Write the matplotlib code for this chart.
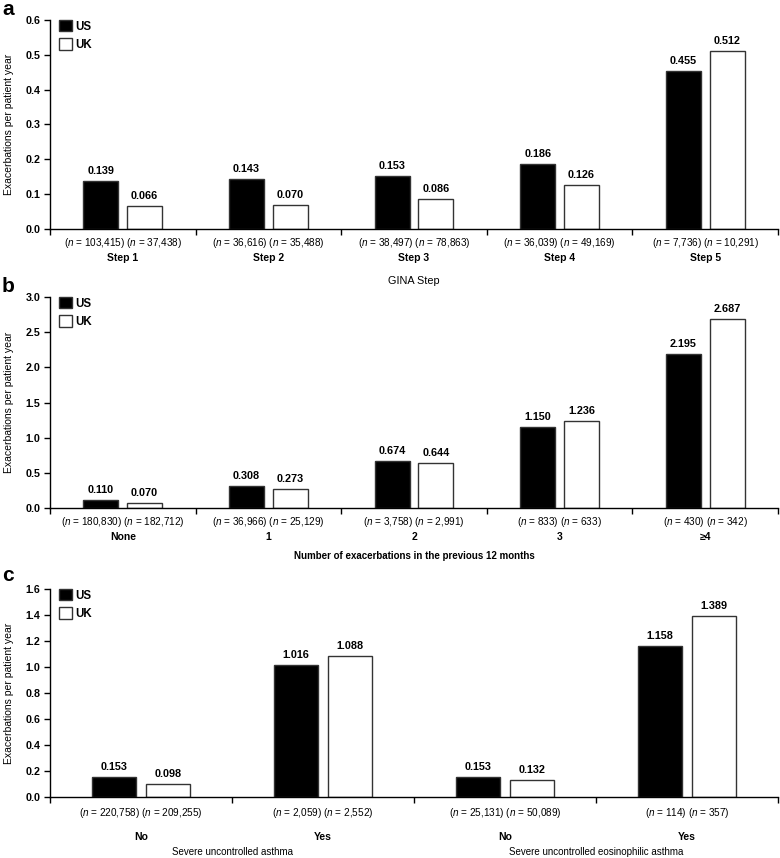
import matplotlib
matplotlib.use("Agg")
import matplotlib.pyplot as plt
import numpy as np
from matplotlib.patches import Patch
from matplotlib.ticker import FormatStrFormatter
from matplotlib.transforms import blended_transform_factory

plt.rcParams["font.family"] = ["Liberation Sans", "DejaVu Sans"]
plt.rcParams["mathtext.fontset"] = "custom"
plt.rcParams["mathtext.rm"] = "Liberation Sans"
plt.rcParams["mathtext.it"] = "Liberation Sans:italic"

# panel a: GINA step
steps = ["Step 1", "Step 2", "Step 3", "Step 4", "Step 5"]
a_us = [0.139, 0.143, 0.153, 0.186, 0.455]
a_uk = [0.066, 0.070, 0.086, 0.126, 0.512]
a_n_us = ["103,415", "36,616", "38,497", "36,039", "7,736"]
a_n_uk = ["37,438", "35,488", "78,863", "49,169", "10,291"]

# panel b: exacerbations in previous 12 months
exac = ["None", "1", "2", "3", "≥4"]
b_us = [0.110, 0.308, 0.674, 1.150, 2.195]
b_uk = [0.070, 0.273, 0.644, 1.236, 2.687]
b_n_us = ["180,830", "36,966", "3,758", "833", "430"]
b_n_uk = ["182,712", "25,129", "2,991", "633", "342"]

# panel c: severe uncontrolled (eosinophilic) asthma
c_cats = ["No", "Yes", "No", "Yes"]
c_groups = ["Severe uncontrolled asthma", "Severe uncontrolled eosinophilic asthma"]
c_us = [0.153, 1.016, 0.153, 1.158]
c_uk = [0.098, 1.088, 0.132, 1.389]
c_n_us = ["220,758", "2,059", "25,131", "114"]
c_n_uk = ["209,255", "2,552", "50,089", "357"]

W, H = 780, 858
OFF, WIDTH = 0.15, 0.24
EDGE = "#333333"
YLABEL = "Exacerbations per patient year"


def below(ax, x, dy, text, **kw):
    """Put text dy pixels below the x axis at data position x."""
    trans = blended_transform_factory(ax.transData, ax.transAxes)
    ax.annotate(text, (x, 0), xycoords=trans, xytext=(0, -dy), textcoords="offset pixels",
                ha="center", va="center", annotation_clip=False, **kw)


def draw_panel(ax, cats, us, uk, n_us, n_uk, ymax, ystep, n_dy, cat_dy):
    x = np.arange(len(cats)) + 0.5
    ax.bar(x - OFF, us, WIDTH, color="black", edgecolor=EDGE, linewidth=1)
    ax.bar(x + OFF, uk, WIDTH, color="white", edgecolor=EDGE, linewidth=1)
    for xs, vals in ((x - OFF, us), (x + OFF, uk)):
        for xi, v in zip(xs, vals):
            ax.annotate(f"{v:.3f}", (xi, v), xytext=(0, 5), textcoords="offset pixels",
                        ha="center", va="bottom", fontsize=7.8, fontweight="bold")
    for xi, c, nu, nk in zip(x, cats, n_us, n_uk):
        below(ax, xi, n_dy, rf"($\it{{n}}$ = {nu}) ($\it{{n}}$ = {nk})", fontsize=7.2)
        below(ax, xi, cat_dy, c, fontsize=7.5, fontweight="bold")

    ax.set_xlim(0, len(cats))
    ax.set_xticks(np.arange(len(cats) + 1))
    ax.set_xticklabels([])
    ax.set_ylim(0, ymax)
    ax.set_yticks(np.arange(0, ymax + ystep / 2, ystep))
    ax.yaxis.set_major_formatter(FormatStrFormatter("%.1f"))
    for lab in ax.get_yticklabels():
        lab.set_fontweight("bold")
    ax.tick_params(axis="y", labelsize=7.7, length=4, width=1, pad=3)
    ax.tick_params(axis="x", length=4, width=1)
    for s in ("top", "right"):
        ax.spines[s].set_visible(False)
    for s in ("left", "bottom"):
        ax.spines[s].set_linewidth(1)
    ax.set_ylabel(YLABEL, fontsize=7.5)
    ax.yaxis.set_label_coords(-0.05, 0.5)

    handles = [Patch(facecolor="black", edgecolor=EDGE, label="US"),
               Patch(facecolor="white", edgecolor=EDGE, label="UK")]
    ax.legend(handles=handles, loc="upper left", bbox_to_anchor=(9 / 728, 1.0),
              frameon=False, borderpad=0, borderaxespad=0, handlelength=1.15,
              handleheight=1.15, handletextpad=0.3, labelspacing=0.5,
              prop={"size": 8.3, "weight": "bold"})


def axes_rect(top, bottom, left=50, right=778):
    return [left / W, 1 - bottom / H, (right - left) / W, (bottom - top) / H]


fig = plt.figure(figsize=(W / 100, H / 100), dpi=100)

ax_a = fig.add_axes(axes_rect(20, 229))
draw_panel(ax_a, steps, a_us, a_uk, a_n_us, a_n_uk, 0.6, 0.1, 14, 29)
below(ax_a, 2.5, 52, "GINA Step", fontsize=7.8)

ax_b = fig.add_axes(axes_rect(297, 508))
draw_panel(ax_b, exac, b_us, b_uk, b_n_us, b_n_uk, 3.0, 0.5, 14, 29)
below(ax_b, 2.5, 48, "Number of exacerbations in the previous 12 months",
      fontsize=7, fontweight="bold")

ax_c = fig.add_axes(axes_rect(589, 797))
draw_panel(ax_c, c_cats, c_us, c_uk, c_n_us, c_n_uk, 1.6, 0.2, 16, 40)
for gx, g in zip([1.0, 3.0], c_groups):
    below(ax_c, gx, 55, g, fontsize=7)

for letter, ytop in (("a", 0), ("b", 277), ("c", 566)):
    fig.text(2 / W, 1 - ytop / H, letter, fontsize=15, fontweight="bold", va="top", ha="left")

fig.savefig("out.png", dpi=100)
